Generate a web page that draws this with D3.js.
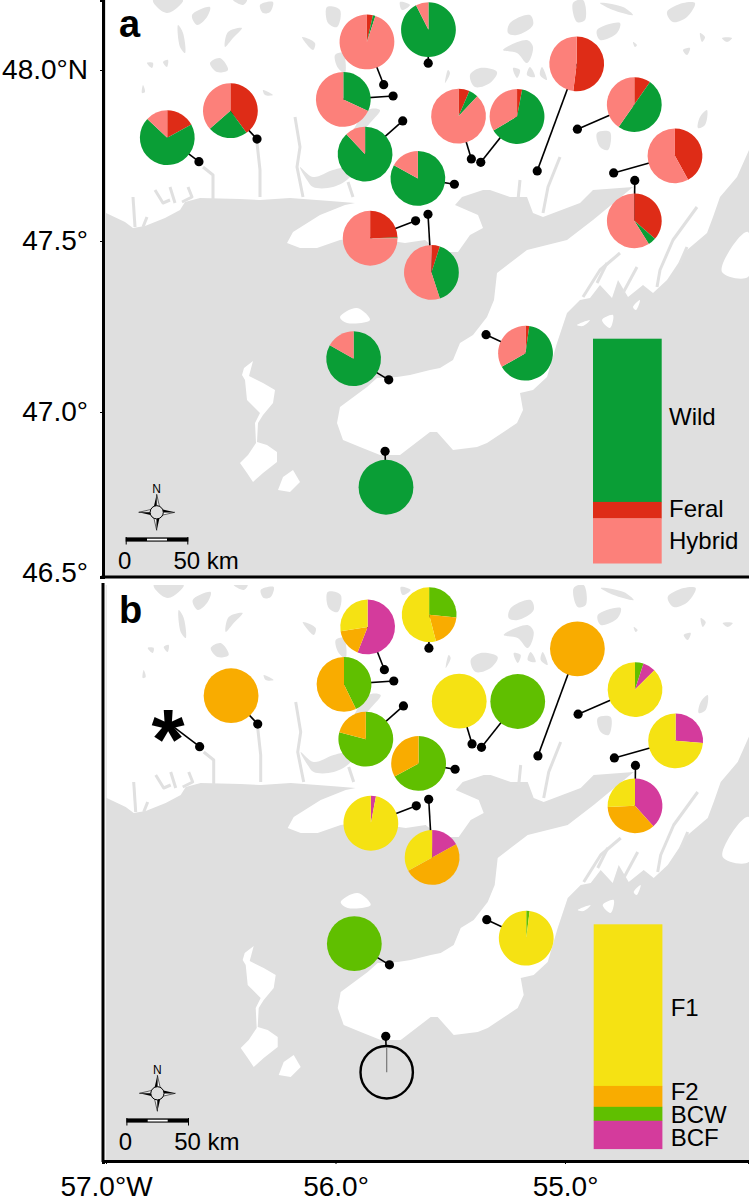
<!DOCTYPE html>
<html><head><meta charset="utf-8">
<script src="https://d3js.org/d3.v7.min.js"></script>
<style>html,body{margin:0;padding:0;background:#fff}svg{display:block}text{font-family:"Liberation Sans",Arial,sans-serif;fill:#000}</style>
</head><body><svg id="c" width="749" height="1197"></svg>
<script>
// ---------- data: sampling sites ----------
const siteLon=[-56.595,-56.342,-55.790,-55.749,-55.707,-55.482,-55.597,-55.651,-55.596,-55.408,-55.367,-55.121,-54.946,-54.788,-54.696,-55.344,-55.768,-55.784];
const siteLat=[47.732,47.798,47.957,47.924,47.851,47.666,47.578,47.559,48.020,47.740,47.730,47.705,47.827,47.699,47.677,47.226,47.094,46.885];
const pieLon=[-56.733,-56.458,-55.863,-55.966,-55.871,-55.641,-55.582,-55.849,-55.595,-55.464,-55.209,-54.949,-54.698,-54.521,-54.698,-55.172,-55.921,-55.780];
const pieLat=[47.802,47.881,48.082,47.914,47.754,47.683,47.408,47.508,48.118,47.865,47.864,48.018,47.899,47.749,47.559,47.172,47.156,46.780];
// panel a (percent)
const feral=[17,40,3.5,0,0,0,5,24.5,0,6.5,3,52,9.7,42,36.4,2.2,0,0];
const wild=[70,23.5,1.5,32,88,83,40,0.5,92.5,5.5,63.5,0,50,0,4.7,64.5,83.2,100];
const hybrid=[13,36.5,95,68,12,17,55,75,7.5,88,33.5,48,40.3,58,58.9,33.3,16.8,0];
// panel b (percent)
const bcw=[0,0,0,42.8,79,67,0,0,26.7,0,100,0,5,0,0,2,100,0];
const bcf=[0,0,56,0,0,0,17,3,0,0,0,0,7.5,26.3,38.3,0,0,0];
const f2=[0,100,16.5,57.2,21,33,50,0,19.3,0,0,100,0,0,36,0,0,0];
const f1=[0,0,27.5,0,0,0,33,97,54,100,0,0,87.5,73.7,25.7,98,0,0];
// overall stacked bars
const legendA=["Wild","Feral","Hybrid"], legendAValues=[72.7,7.3,20];
const legendB=["F1","F2","BCW","BCF"], legendBValues=[72,9.3,6.2,12.5];
const colorsA=["#0a9e36","#de2c17","#fc807a"];
const colorsB=["#f5e213","#f9ac00","#60bf00","#d43b9c"];
const lonTicks=[-57,-56,-55], lonLabels=["57.0°W","56.0°","55.0°"];
const latTicks=[48,47.5,47], latLabels=["48.0°N","47.5°","47.0°"];

// ---------- base map, digitised in sheet units ----------
const land=[[106,0],[749,0],[749,150],[737,177],[720,197],[713,217],[707,233],[687,250],[667,280],[653,293],[643,285],[628,297],[618,280],[612,298],[600,285],[590,298],[580,300],[567,313],[557,343],[547,377],[533,390],[520,393],[523,410],[517,423],[487,443],[477,447],[453,450],[437,432],[430,432],[400,455],[380,455],[360,447],[343,440],[337,423],[340,407],[367,387],[377,378],[397,377],[410,375],[430,370],[440,368],[453,360],[460,343],[473,335],[487,317],[494,300],[497,273],[527,250],[567,240],[593,220],[633,187],[593,190],[580,203],[543,217],[533,213],[527,197],[510,197],[490,190],[483,190],[462,197],[455,205],[478,215],[483,228],[470,235],[458,252],[440,252],[425,240],[405,243],[385,240],[365,237],[340,240],[317,248],[300,248],[287,243],[293,232],[320,215],[345,205],[355,203],[330,201],[290,198],[260,200],[240,199],[200,198],[185,202],[180,210],[165,218],[145,226],[133,228],[125,222],[106,213]];
const islands=[
 [[242,375],[244,368],[253,361],[249,376],[263,383],[275,390],[273,403],[263,415],[258,423],[257,442],[267,445],[277,452],[277,462],[263,473],[253,482],[247,473],[240,463],[248,455],[256,443],[255,423],[260,413],[247,400],[245,380]],
 [[278,490],[283,477],[293,470],[300,482],[290,492]],
 [[340,317],[357,308],[370,320],[347,323]],
 [[602,320],[613,315],[610,328]],[[577,325],[590,320],[583,326]],[[633,307],[640,300],[636,310]],
 [[722,272],[737,240],[748,232],[748,277]]];
const lakes=[
 [[153,0],[183,0],[178,7],[167,13],[157,7]],[[192,15],[210,7],[207,17],[197,25]],[[178,25],[183,33],[185,53],[180,47]],
 [[210,63],[220,58],[228,70],[217,72]],[[147,63],[153,63],[152,68]],[[163,62],[168,60],[167,67]],[[228,32],[242,28],[233,38],[225,47]],
 [[260,5],[273,2],[270,12],[263,13]],[[327,7],[340,10],[337,27],[328,23]],[[335,55],[343,53],[345,73],[338,68]],[[302,37],[315,43],[313,50]],
 [[143,85],[145,92],[142,93]],[[263,90],[273,95],[265,95]],[[233,0],[247,0],[243,5]],[[400,2],[410,5],[402,10]],
 [[300,167],[313,177],[333,170],[353,167],[350,177],[333,187],[313,187],[307,180]],[[367,110],[380,110],[370,123],[347,147]],
 [[510,23],[530,15],[533,25],[517,35],[508,33]],[[503,50],[527,40],[533,47],[527,63],[517,53]],[[470,75],[480,68],[497,72],[490,83],[475,87]],
 [[448,70],[450,73],[445,83]],[[513,68],[520,70],[517,78]],[[530,67],[535,77],[527,75]],[[542,67],[547,80],[540,75]],
 [[573,3],[583,0],[585,20],[577,22]],[[597,30],[620,23],[617,33],[600,40]],[[597,133],[610,132],[608,150],[600,147]],
 [[667,12],[683,3],[695,3],[687,17],[673,22]],[[633,42],[637,45],[635,47]],[[683,50],[690,48],[687,55]],[[700,33],[705,37],[702,42]],
 [[722,38],[732,38],[727,42]],[[700,117],[707,110],[705,125],[698,128]],[[600,3],[623,7],[633,15],[613,10]]];
const fjords=[
 [[203,167],[213,175],[213,200]],[[257,143],[260,170],[260,197]],[[295,117],[300,147],[297,167],[303,197]],[[133,197],[135,227]],
 [[155,190],[163,203],[170,200]],[[170,187],[175,203]],[[188,187],[192,197],[182,202]],[[147,217],[143,227]],[[348,182],[353,197]],
 [[697,207],[673,240],[660,270],[657,287]],[[620,253],[600,270],[583,297]],[[687,247],[680,263]],[[607,263],[597,283]],[[637,267],[623,293]],
 [[560,157],[548,187],[543,213]],[[520,180],[518,200]]];

// ---------- scales ----------
const svg=d3.select("#c");
const lonAt=d3.scaleLinear().domain([-57,-55]).range([106,565]);
const latAt=d3.scaleLinear().domain([48,47]).range([70,412]);
const sheetX=d3.scaleLinear().domain([106,749]).range([106,749]);
const sheetY=d3.scaleLinear().domain([0,577]).range([0,577]);
const R=27.4;
const arc=d3.arc().innerRadius(0).outerRadius(R);
const pie=d3.pie().sort(null).value(d=>d.v);
const legendH=d3.scaleLinear().domain([0,100]).range([0,224.5]);

function panel(id,dy,dx,series,colors){
  const g=svg.append("g").attr("transform",`translate(${dx},${dy})`);
  const clip=g.append("clipPath").attr("id",id).append("rect").attr("x",105).attr("y",0).attr("width",644).attr("height",576);
  const map=g.append("g").attr("clip-path",`url(#${id})`);
  map.append("rect").attr("x",100).attr("y",0).attr("width",660).attr("height",577).attr("fill","#dfdfdf");
  const poly=d3.line().x(d=>sheetX(d[0])).y(d=>sheetY(d[1]));
  const blob=d3.line().x(d=>sheetX(d[0])).y(d=>sheetY(d[1])).curve(d3.curveCatmullRomClosed);
  map.append("path").attr("d",poly(land)+"Z").attr("fill","#fff");
  map.selectAll("path.isl").data(islands).join("path").attr("class","isl").attr("d",(d,i)=>i<2?poly(d)+"Z":blob(d)).attr("fill","#fff");
  map.selectAll("path.lk").data(lakes).join("path").attr("class","lk").attr("d",blob).attr("fill","#e2e2e2");
  map.selectAll("path.fj").data(fjords).join("path").attr("class","fj").attr("d",poly).attr("fill","none").attr("stroke","#e0e0e0").attr("stroke-width",3).attr("stroke-linejoin","round");
  return {g,map};
}
function draw(p,seriesList,colors){
  const idx=d3.range(siteLon.length);
  const isEmpty=i=>d3.sum(seriesList,s=>s[i])===0;
  p.map.selectAll("line.lead").data(idx).join("line").attr("class","lead")
    .attr("x1",i=>lonAt(siteLon[i])).attr("y1",i=>latAt(siteLat[i]))
    .attr("x2",i=>lonAt(pieLon[i])).attr("y2",i=>latAt(pieLat[i]))
    .attr("stroke","#000").attr("stroke-width",1.6);
  idx.filter(i=>!isEmpty(i)).forEach(i=>{
    const gp=p.map.append("g").attr("transform",`translate(${lonAt(pieLon[i])},${latAt(pieLat[i])})`);
    const vals=seriesList.map((s,k)=>({v:s[i],c:colors[k]}));
    gp.selectAll("path").data(pie(vals)).join("path").attr("d",arc).attr("fill",d=>d.data.c);
  });
  p.map.selectAll("circle.site").data(idx).join("circle").attr("class","site")
    .attr("cx",i=>lonAt(siteLon[i])).attr("cy",i=>latAt(siteLat[i])).attr("r",4.6).attr("fill","#000");
}
function legend(p,names,values,colors,top,tx,labelY){
  const stack=d3.cumsum(values);
  const x0=593,w=68.7;
  p.map.selectAll("rect.lg").data(values).join("rect").attr("class","lg")
    .attr("x",x0).attr("width",w)
    .attr("y",(d,i)=>top+legendH(stack[i]-d)).attr("height",d=>legendH(d)+0.3)
    .attr("fill",(d,i)=>colors[i]);
  p.map.selectAll("text.lgt").data(names).join("text").attr("class","lgt")
    .attr("x",tx).attr("y",(d,i)=>labelY[i]).attr("font-size",24).text(d=>d);
}
function furniture(p,off){
  // compass
  const c=p.map.append("g").attr("transform",`translate(156.7,${512.3+off})`);
  [0,90,180,270].forEach(a=>{
    const q=c.append("g").attr("transform",`rotate(${a})`);
    q.append("path").attr("d","M0,-18L-3.2,-4L0,-7Z").attr("fill","#000");
    q.append("path").attr("d","M0,-18L3.2,-4L0,-7Z").attr("fill","#fff").attr("stroke","#000").attr("stroke-width",.6);
  });
  c.append("circle").attr("r",6.6).attr("fill","#dfdfdf").attr("stroke","#000").attr("stroke-width",1);
  c.append("text").attr("y",-19).attr("text-anchor","middle").attr("font-size",12).text("N");
  // scale bar
  const b=p.map.append("g").attr("transform",`translate(0,${off})`);
  b.append("rect").attr("x",125.7).attr("y",537.4).attr("width",62.6).attr("height",4.2).attr("fill","#000");
  b.append("rect").attr("x",147).attr("y",538.7).attr("width",20).attr("height",1.8).attr("fill","#fff");
  b.append("path").attr("d","M126.2,537V544.5M187.8,537V544.5").attr("stroke","#000").attr("stroke-width",1);
  b.append("text").attr("x",118).attr("y",569).attr("font-size",24).text("0");
  b.append("text").attr("x",173.5).attr("y",569).attr("font-size",24).text("50 km");
}

// ---------- panel a ----------
const A=panel("clipA",0,0);
draw(A,[feral,wild,hybrid],[colorsA[1],colorsA[0],colorsA[2]]);
legend(A,legendA,legendAValues,colorsA,338.7,669,[425,516.5,549]);
furniture(A,0);
svg.append("text").attr("x",119).attr("y",36.5).attr("font-size",38).attr("font-weight","bold").text("a");

// ---------- panel b ----------
const B=panel("clipB",585,0.7);
draw(B,[bcw,bcf,f2,f1],[colorsB[2],colorsB[3],colorsB[1],colorsB[0]]);
legend(B,legendB,legendBValues,colorsB,339.3,670,[431,515,538.3,560.7]);
furniture(B,-4);
svg.append("text").attr("x",119).attr("y",623).attr("font-size",38).attr("font-weight","bold").text("b");
// no-data markers of panel b
B.map.append("text").attr("x",lonAt(pieLon[0])).attr("y",latAt(pieLat[0])+46).attr("text-anchor","middle").attr("font-size",85).attr("font-weight","bold").text("*");
B.map.append("circle").attr("cx",lonAt(pieLon[17])).attr("cy",latAt(pieLat[17])).attr("r",26.2).attr("fill","#dfdfdf").attr("stroke","#000").attr("stroke-width",2.4);
B.map.append("line").attr("x1",lonAt(pieLon[17])).attr("x2",lonAt(pieLon[17])).attr("y1",latAt(pieLat[17])).attr("y2",latAt(pieLat[17])-25).attr("stroke","#777").attr("stroke-width",1.2);

// ---------- axes ----------
const latAxisScale=d3.scaleLinear().domain([latAt.invert(0),latAt.invert(577)]).range([0,577]);
const axA=svg.append("g").attr("transform","translate(103,0)").call(d3.axisLeft(latAxisScale).tickValues(latTicks).tickSizeOuter(0).tickSize(3).tickPadding(12).tickFormat((d,i)=>latLabels[i]));
axA.select(".domain").attr("stroke-width",3);
axA.selectAll("text").attr("font-size",28).attr("font-family","Liberation Sans");
svg.append("text").attr("x",88).attr("y",582).attr("text-anchor","end").attr("font-size",28).text("46.5°");
svg.append("line").attr("x1",101.5).attr("x2",749).attr("y1",577).attr("y2",577).attr("stroke","#000").attr("stroke-width",3);
svg.append("line").attr("x1",103).attr("x2",103).attr("y1",583).attr("y2",1162).attr("stroke","#000").attr("stroke-width",3);
const lonAxisScale=d3.scaleLinear().domain([lonAt.invert(103),lonAt.invert(749)]).range([103,749]);
const axB=svg.append("g").attr("transform","translate(0,1161)").call(d3.axisBottom(lonAxisScale).tickValues(lonTicks).tickSizeOuter(0).tickSize(3).tickPadding(12).tickFormat((d,i)=>lonLabels[i]));
axB.select(".domain").attr("stroke-width",3);
axB.selectAll("text").attr("font-size",28).attr("font-family","Liberation Sans");
</script></body></html>
